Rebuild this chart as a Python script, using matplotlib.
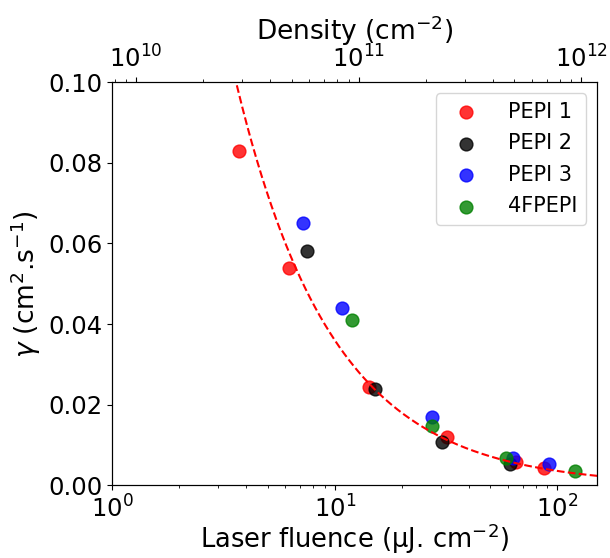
import matplotlib
matplotlib.use('Agg')
import matplotlib.pyplot as plt
import numpy as np

# laser fluence (uJ/cm2) and gamma (cm2/s)
pepi1_f = [3.72, 6.25, 14.3, 32.0, 65.5, 87.4]
pepi1_g = [0.083, 0.054, 0.0245, 0.012, 0.0059, 0.0043]
pepi2_f = [7.5, 15.2, 30.4, 61.5]
pepi2_g = [0.058, 0.024, 0.0107, 0.0052]
pepi3_f = [7.2, 10.8, 27.2, 63.4, 92.0]
pepi3_g = [0.065, 0.044, 0.017, 0.0068, 0.0052]
fpepi_f = [11.9, 27.4, 59.0, 120.5]
fpepi_g = [0.041, 0.0148, 0.0069, 0.0037]

# power-law fit gamma = A * F^-n
fit_A = 0.36
fit_n = 1.0
# fluence -> carrier density (cm-2)
dens_per_fluence = 7.8e9
xmin, xmax = 1, 151

plt.rcParams.update({'font.size': 17.5})
fig, ax = plt.subplots(figsize=(6.1, 5.58), dpi=100)
fig.subplots_adjust(left=0.184, right=0.979, top=0.853, bottom=0.13)

ax.scatter(pepi1_f, pepi1_g, s=85, color='red', alpha=0.8, label='PEPI 1')
ax.scatter(pepi2_f, pepi2_g, s=85, color='black', alpha=0.8, label='PEPI 2')
ax.scatter(pepi3_f, pepi3_g, s=85, color='blue', alpha=0.8, label='PEPI 3')
ax.scatter(fpepi_f, fpepi_g, s=85, color='green', alpha=0.8, label='4FPEPI')

ff = np.logspace(0, np.log10(xmax), 300)
ax.plot(ff, fit_A * ff**(-fit_n), 'r--', lw=1.5)

ax.set_xscale('log')
ax.set_xlim(xmin, xmax)
ax.set_ylim(0, 0.1)
ax.set_xlabel(r'Laser fluence ($\mathrm{\mu}$J$.\,$cm$^{-2}$)', fontsize=18.5, labelpad=-0.5)
ax.set_ylabel(r'$\gamma$ (cm$^2$.s$^{-1}$)', fontsize=19)
ax.legend(loc='upper right', fontsize=15, handletextpad=0.95, handlelength=2.1,
          borderaxespad=0.55, labelspacing=0.55)

ax2 = ax.twiny()
ax2.set_xscale('log')
ax2.set_xlim(xmin * dens_per_fluence, xmax * dens_per_fluence)
ax2.set_xlabel(r'Density (cm$^{-2}$)', fontsize=19)

plt.savefig('out.png')
